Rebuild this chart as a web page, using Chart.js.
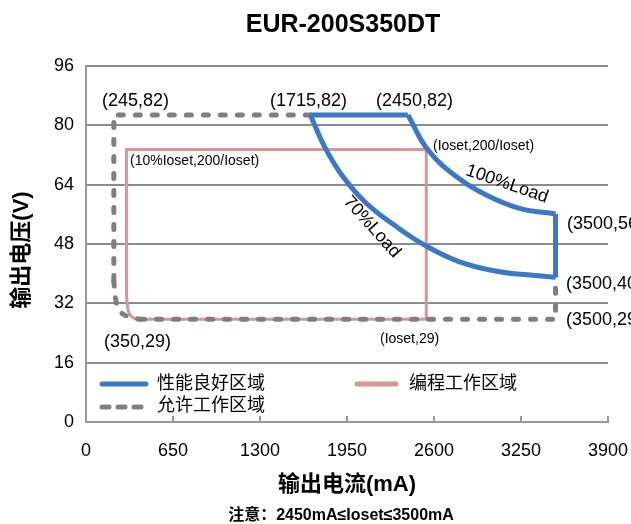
<!DOCTYPE html>
<html>
<head>
<meta charset="utf-8">
<script src="https://cdn.jsdelivr.net/npm/chart.js@4.4.1/dist/chart.umd.min.js"></script>
<style>body{margin:0;background:#fff}</style>
</head>
<body>
<canvas id="chart" width="631" height="524"></canvas>
<script>
const xTicks = [0, 650, 1300, 1950, 2600, 3250, 3900];
const yTicks = [0, 16, 32, 48, 64, 80, 96];

// 性能良好区域 (blue)
const goodTop = [[1676, 82.8], [2405, 82.8]];
const good100 = [[2405, 82.8], [2554, 73.4], [2766, 66.2], [2990, 61.2], [3239, 57.6], [3508, 56.1]];
const goodRight = [[3508, 56.1], [3508, 39.0]];
const good70 = [[1676, 82.8], [1783, 74.2], [1919, 66.2], [2094, 59.0], [2318, 52.7], [2530, 47.7], [2791, 43.2], [3090, 40.5], [3338, 39.6], [3508, 39.0]];

// 编程工作区域 (pink)
const progRect = [[302, 38], [302, 73.5], [2542, 73.5], [2542, 27.7], [440, 27.7]];
const progCorner = [[440, 27.7], [365, 27.9], [322, 29.3], [306, 32.5], [302, 38]];

// 允许工作区域 (gray dashed)
const allowTop = [[1676, 82.8], [208, 82.8], [208, 38]];
const allowCorner = [[208, 38], [222, 33], [262, 29.5], [340, 28.2], [400, 27.7]];
const allowBottom = [[400, 27.7], [3508, 27.7], [3508, 39]];

const BLUE = '#3b78c8';
const PINK = '#dc9494';
const GRAY = '#7f7f7f';
const FONT = '"Liberation Sans", Arial, "Noto Sans CJK SC", sans-serif';

function toXY(arr) {
    return arr.map(p => ({x: p[0], y: p[1]}));
}

function line(data, color, width, tension, order, dash) {
    return {
        data: toXY(data),
        borderColor: color,
        borderWidth: width,
        tension: tension,
        pointRadius: 0,
        showLine: true,
        fill: false,
        order: order,
        borderDash: dash || [],
        borderCapStyle: dash ? 'round' : 'butt',
        borderJoinStyle: 'miter'
    };
}

const dash = [5, 12];

const decor = {
    id: 'decor',
    afterDraw(chart) {
        const ctx = chart.ctx;
        const xs = chart.scales.x;
        const area = chart.chartArea;
        ctx.save();

        // x tick marks (inside)
        ctx.strokeStyle = '#999';
        ctx.lineWidth = 2;
        xTicks.slice(1).forEach(v => {
            const px = xs.getPixelForValue(v);
            ctx.beginPath();
            ctx.moveTo(px, area.bottom);
            ctx.lineTo(px, area.bottom - 6);
            ctx.stroke();
        });

        ctx.fillStyle = '#000';
        ctx.textBaseline = 'middle';

        // title
        ctx.textAlign = 'center';
        ctx.font = 'bold 25px ' + FONT;
        ctx.fillText('EUR-200S350DT', 343, 25);

        // axis titles
        ctx.font = 'bold 22px ' + FONT;
        ctx.fillText('输出电流(mA)', 347, 485);
        ctx.font = 'bold 16px ' + FONT;
        ctx.fillText('注意：2450mA≤Ioset≤3500mA', 341, 516);

        ctx.save();
        ctx.translate(22, 250);
        ctx.rotate(-Math.PI / 2);
        ctx.font = 'bold 22px ' + FONT;
        ctx.fillText('输出电压(V)', 0, 0);
        ctx.restore();

        // point labels
        ctx.textAlign = 'left';
        ctx.font = '18px ' + FONT;
        ctx.fillText('(245,82)', 102, 101);
        ctx.fillText('(1715,82)', 270, 101);
        ctx.fillText('(2450,82)', 376, 101);
        ctx.fillText('(350,29)', 104, 342);
        ctx.fillText('(3500,56)', 567, 224);
        ctx.fillText('(3500,40)', 566, 284);
        ctx.fillText('(3500,29)', 566, 320);

        ctx.font = '14px ' + FONT;
        ctx.fillText('(10%Ioset,200/Ioset)', 130, 161);
        ctx.fillText('(Ioset,200/Ioset)', 433, 146);
        ctx.fillText('(Ioset,29)', 380, 339);

        ctx.font = '18px ' + FONT;
        ctx.textAlign = 'center';
        ctx.save();
        ctx.translate(507, 184);
        ctx.rotate(19 * Math.PI / 180);
        ctx.fillText('100%Load', 0, 0);
        ctx.restore();
        ctx.save();
        ctx.translate(372, 227);
        ctx.rotate(48 * Math.PI / 180);
        ctx.fillText('70%Load', 0, 0);
        ctx.restore();

        // legend
        ctx.lineCap = 'round';
        ctx.lineWidth = 5;
        ctx.strokeStyle = BLUE;
        ctx.beginPath(); ctx.moveTo(102, 384); ctx.lineTo(146, 384); ctx.stroke();
        ctx.strokeStyle = PINK;
        ctx.beginPath(); ctx.moveTo(357, 384); ctx.lineTo(396, 384); ctx.stroke();
        ctx.strokeStyle = GRAY;
        ctx.setLineDash([7, 9]);
        ctx.beginPath(); ctx.moveTo(102, 407); ctx.lineTo(142, 407); ctx.stroke();
        ctx.setLineDash([]);

        ctx.textAlign = 'left';
        ctx.font = '18px ' + FONT;
        ctx.fillText('性能良好区域', 157, 384);
        ctx.fillText('编程工作区域', 409, 384);
        ctx.fillText('允许工作区域', 157, 406);
        ctx.restore();
    }
};

new Chart(document.getElementById('chart'), {
    type: 'scatter',
    data: {
        datasets: [
            line(goodTop, BLUE, 5, 0, 1),
            line(good100, BLUE, 5, 0.4, 1),
            line(goodRight, BLUE, 5, 0, 1),
            line(good70, BLUE, 5, 0.4, 1),
            line(allowTop, GRAY, 5, 0, 2, dash),
            line(allowCorner, GRAY, 5, 0.4, 2, dash),
            line(allowBottom, GRAY, 5, 0, 2, dash),
            line(progRect, PINK, 3, 0, 3),
            line(progCorner, PINK, 3, 0.4, 3)
        ]
    },
    options: {
        responsive: false,
        animation: false,
        devicePixelRatio: 1,
        layout: {padding: {left: 0, right: 23, top: 66, bottom: 62}},
        plugins: {
            legend: {display: false},
            tooltip: {enabled: false}
        },
        scales: {
            x: {
                type: 'linear',
                min: xTicks[0],
                max: xTicks[xTicks.length - 1],
                afterFit: s => { s.height = 40; s.paddingLeft = 0; s.paddingRight = 0; },
                afterBuildTicks: s => { s.ticks = xTicks.map(v => ({value: v})); },
                grid: {display: false, drawTicks: false},
                border: {color: '#999', width: 2},
                ticks: {color: '#000', padding: 18, maxRotation: 0, font: {size: 18, family: FONT}, callback: v => String(v)}
            },
            y: {
                min: yTicks[0],
                max: yTicks[yTicks.length - 1],
                afterFit: s => { s.width = 86; },
                afterBuildTicks: s => { s.ticks = yTicks.map(v => ({value: v})); },
                grid: {color: '#8c8c8c', lineWidth: 2, drawTicks: false},
                border: {color: '#999', width: 2},
                ticks: {color: '#000', padding: 12, font: {size: 18, family: FONT}, callback: v => String(v)}
            }
        }
    },
    plugins: [decor]
});
</script>
</body>
</html>
